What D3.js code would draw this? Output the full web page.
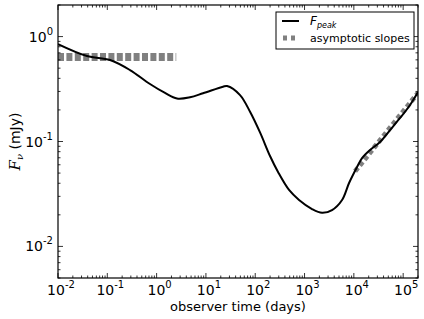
<!DOCTYPE html>
<html><head><meta charset="utf-8">
<script src="https://cdn.jsdelivr.net/npm/d3@7"></script>
<style>body{margin:0;background:#fff}svg{display:block}text{font-family:"DejaVu Sans",sans-serif}</style>
</head><body>
<script>
// data
const curveT = [0.01,0.0387,0.1135,0.288,0.734,1.48,2.59,4.76,8.73,22.2,26.8,49.2,78.5,125,199.5,290,485,773,1419,2265,3612,5768,8000,11620,14660,21330,33980,54200,86500,138000,200000];
const curveF = [0.849,0.653,0.598,0.480,0.353,0.290,0.257,0.264,0.288,0.333,0.338,0.277,0.192,0.122,0.0727,0.0512,0.0345,0.0277,0.0227,0.0209,0.0222,0.0277,0.0402,0.0571,0.0695,0.083,0.0989,0.1286,0.1675,0.223,0.296];
const earlySlopeT = [0.01, 2.5];
const earlySlopeF = [0.64, 0.64];
const lateSlopeT = [10600, 200000];
const lateSlopeF = [0.052, 0.29];
const xTickExps = [-2,-1,0,1,2,3,4,5];
const yTickExps = [-2,-1,0];
const xDomain = [0.01, 2e5];
const yDomain = [0.005, 2];

const W=424,H=319;
const m={l:58,r:418,t:5,b:278};
const svg=d3.select("body").append("svg").attr("width",W).attr("height",H);
const x=d3.scaleLog().domain(xDomain).range([m.l,m.r]);
const y=d3.scaleLog().domain(yDomain).range([m.b,m.t]);

svg.append("defs").append("clipPath").attr("id","clip").append("rect")
  .attr("x",m.l).attr("y",m.t).attr("width",m.r-m.l).attr("height",m.b-m.t);

const g=svg.append("g").attr("clip-path","url(#clip)");
const line=d3.line().x(d=>x(d[0])).y(d=>y(d[1]));
g.append("path").datum(earlySlopeT.map((t,i)=>[t,earlySlopeF[i]]))
  .attr("d",line).attr("fill","none").attr("stroke","#808080").attr("stroke-width",8)
  .attr("stroke-dasharray","6,2.4");
g.append("path").datum(lateSlopeT.map((t,i)=>[t,lateSlopeF[i]]))
  .attr("d",line).attr("fill","none").attr("stroke","#808080").attr("stroke-width",5)
  .attr("stroke-dasharray","4.5,3");
g.append("path").datum(curveT.map((t,i)=>[t,curveF[i]]))
  .attr("d",d3.line().x(d=>x(d[0])).y(d=>y(d[1])).curve(d3.curveCatmullRom.alpha(0.5)))
  .attr("fill","none").attr("stroke","#000").attr("stroke-width",2);

// ticks
function minors(dom){const out=[];const a=Math.floor(Math.log10(dom[0])),b=Math.ceil(Math.log10(dom[1]));
  for(let e=a;e<=b;e++)for(let k=2;k<=9;k++){const v=k*Math.pow(10,e);if(v>=dom[0]*0.999&&v<=dom[1]*1.001)out.push(v);}return out;}
const tk=svg.append("g").attr("stroke","#000").attr("stroke-width",0.8);
xTickExps.forEach(e=>{const px=x(Math.pow(10,e));
  tk.append("line").attr("x1",px).attr("x2",px).attr("y1",m.b).attr("y2",m.b-5);
  tk.append("line").attr("x1",px).attr("x2",px).attr("y1",m.t).attr("y2",m.t+5);});
minors(xDomain).forEach(v=>{const px=x(v);
  tk.append("line").attr("x1",px).attr("x2",px).attr("y1",m.b).attr("y2",m.b-2.5);
  tk.append("line").attr("x1",px).attr("x2",px).attr("y1",m.t).attr("y2",m.t+2.5);});
yTickExps.forEach(e=>{const py=y(Math.pow(10,e));
  tk.append("line").attr("x1",m.l).attr("x2",m.l+5).attr("y1",py).attr("y2",py);
  tk.append("line").attr("x1",m.r).attr("x2",m.r-5).attr("y1",py).attr("y2",py);});
minors(yDomain).forEach(v=>{const py=y(v);
  tk.append("line").attr("x1",m.l).attr("x2",m.l+2.5).attr("y1",py).attr("y2",py);
  tk.append("line").attr("x1",m.r).attr("x2",m.r-2.5).attr("y1",py).attr("y2",py);});

svg.append("rect").attr("x",m.l).attr("y",m.t).attr("width",m.r-m.l).attr("height",m.b-m.t)
  .attr("fill","none").attr("stroke","#000").attr("stroke-width",1.2);

function expLabel(sel,e){sel.append("tspan").text("10");
  sel.append("tspan").attr("font-size",10).attr("dy",-7).text(e<0?"-"+(-e):String(e));}
xTickExps.forEach(e=>{const t=svg.append("text").attr("x",x(Math.pow(10,e))+3).attr("y",295)
  .attr("text-anchor","middle").attr("font-size",14);expLabel(t,e);});
yTickExps.forEach(e=>{const t=svg.append("text").attr("x",53).attr("y",y(Math.pow(10,e))+5)
  .attr("text-anchor","end").attr("font-size",14);expLabel(t,e);});

svg.append("text").attr("x",(m.l+m.r)/2).attr("y",311).attr("text-anchor","middle")
  .attr("font-size",13).text("observer time (days)");
const yl=svg.append("text").attr("transform",`translate(20,${(m.t+m.b)/2}) rotate(-90)`)
  .attr("text-anchor","middle").attr("font-size",14);
yl.append("tspan").attr("font-family","DejaVu Serif").attr("font-style","italic").attr("font-size",15).text("F");
yl.append("tspan").attr("font-family","DejaVu Serif").attr("font-style","italic").attr("font-size",10).attr("dy",3).text("ν");
yl.append("tspan").attr("dy",-3).text(" (mJy)");

// legend
const lg=svg.append("g");
lg.append("rect").attr("x",276).attr("y",12).attr("width",138).attr("height",37)
  .attr("fill","#fff").attr("stroke","#000").attr("stroke-width",1);
lg.append("line").attr("x1",282).attr("x2",299).attr("y1",21).attr("y2",21).attr("stroke","#000").attr("stroke-width",2);
lg.append("line").attr("x1",283).attr("x2",297).attr("y1",38).attr("y2",38).attr("stroke","#808080").attr("stroke-width",5).attr("stroke-dasharray","4,4");
const lt=lg.append("text").attr("x",310).attr("y",25).attr("font-size",12).attr("font-family","DejaVu Serif").attr("font-style","italic");
lt.append("tspan").text("F");
lt.append("tspan").attr("font-size",8).attr("dy",3).text("peak");
lg.append("text").attr("x",310).attr("y",42).attr("font-size",11).text("asymptotic slopes");
</script>
</body></html>
